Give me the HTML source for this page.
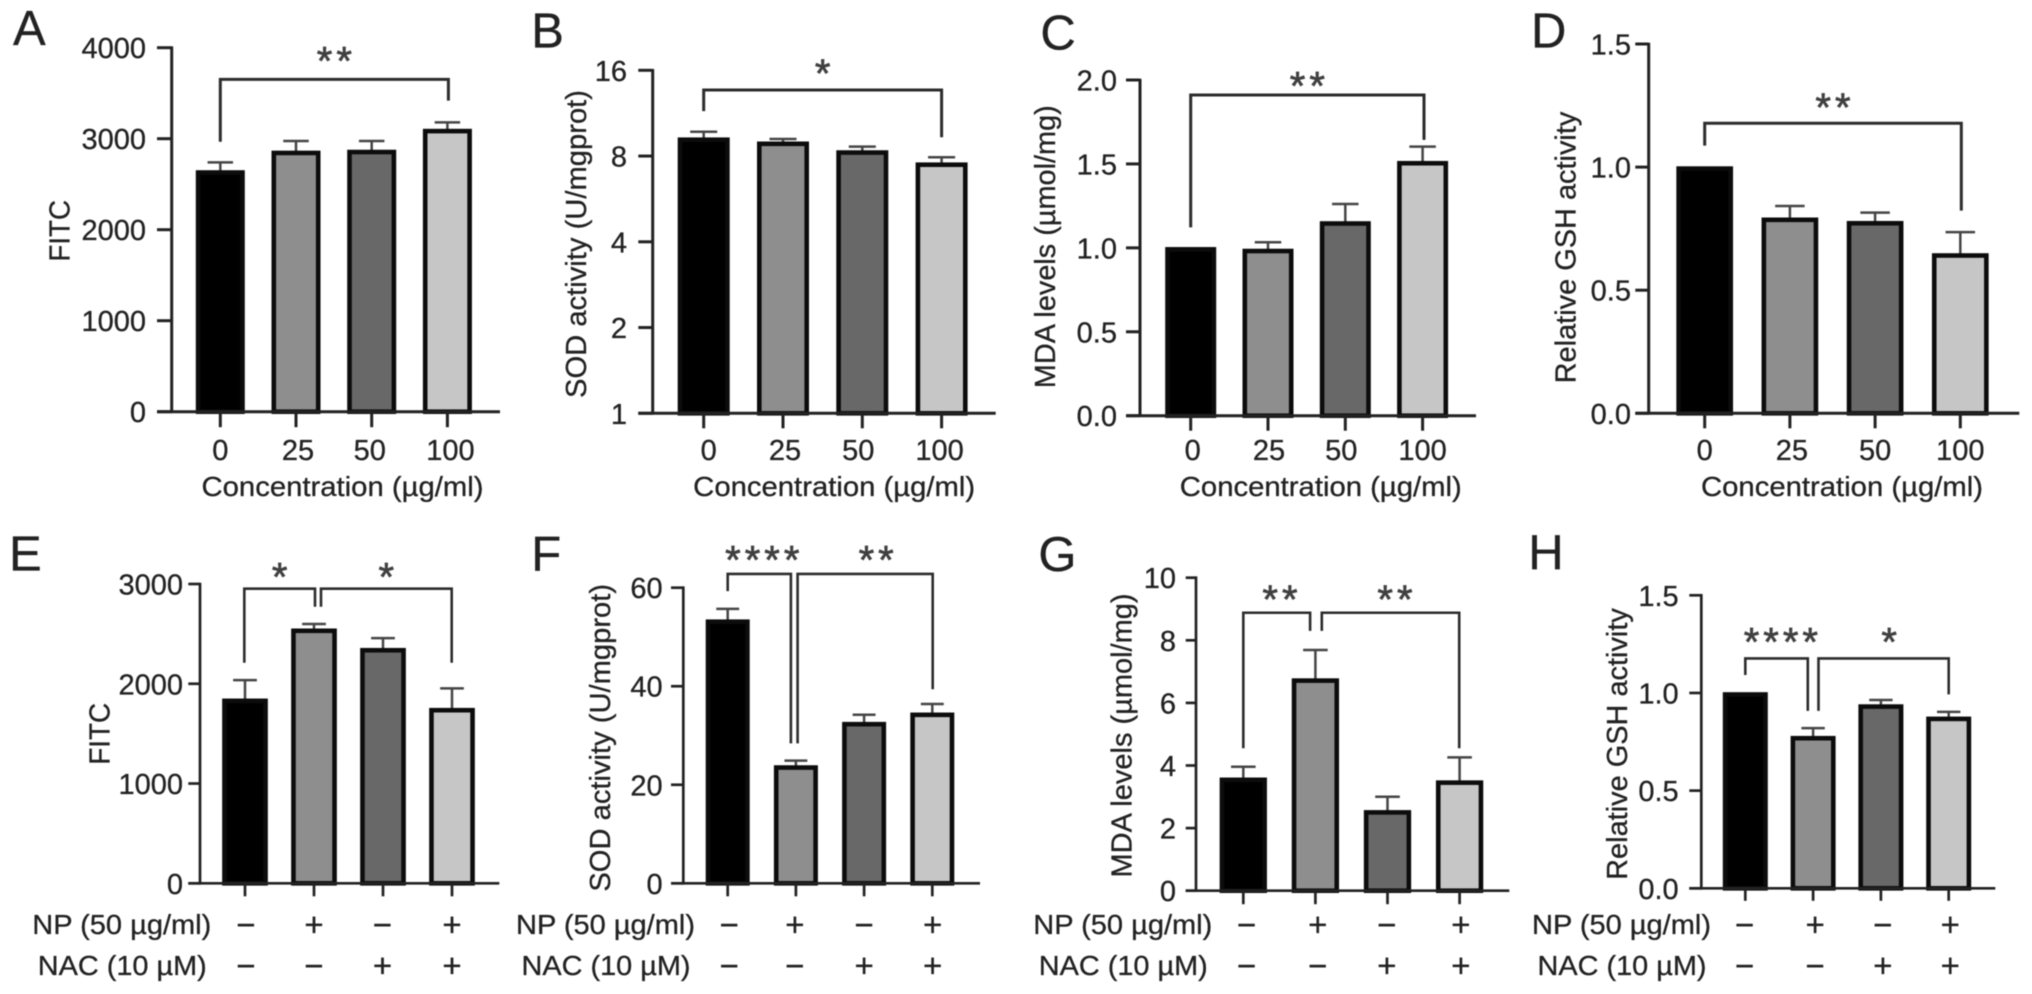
<!DOCTYPE html>
<html lang="en">
<head>
<meta charset="utf-8">
<title>Oxidative stress bar charts, panels A to H</title>
<style>
  html, body { margin: 0; padding: 0; background: #ffffff; }
  #figure { display: block; width: 2032px; height: 994px; filter: blur(0.55px); }
  text { font-family: "Liberation Sans", "DejaVu Sans", sans-serif; fill: #222222; stroke: #222222; stroke-width: 0.3px; }
</style>
</head>
<body>
<svg id="figure" xmlns="http://www.w3.org/2000/svg" width="2032" height="994" viewBox="0 0 2032 994"></svg>
<script>
// ---------- chart data ----------
const concentrationCategories = ['0', '25', '50', '100'];
const npSigns = ['\u2212', '+', '\u2212', '+'];
const nacSigns = ['\u2212', '\u2212', '+', '+'];

const aValues = [2645, 2860, 2870, 3100];
const aErrorTops = [2740, 2975, 2975, 3180];
const aTicks = [0, 1000, 2000, 3000, 4000];
const aTickLabels = ['0', '1000', '2000', '3000', '4000'];

const bValues = [9.24, 8.94, 8.33, 7.55];
const bErrorTops = [9.74, 9.18, 8.63, 7.92];
const bTicks = [1, 2, 4, 8, 16];
const bTickLabels = ['1', '2', '4', '8', '16'];

const cValues = [1.0, 0.99, 1.154, 1.513];
const cErrorTops = [1.0, 1.033, 1.261, 1.603];
const cTicks = [0, 0.5, 1, 1.5, 2];
const cTickLabels = ['0.0', '0.5', '1.0', '1.5', '2.0'];

const dValues = [1.0, 0.792, 0.778, 0.647];
const dErrorTops = [1.0, 0.842, 0.815, 0.736];
const dTicks = [0, 0.5, 1, 1.5];
const dTickLabels = ['0.0', '0.5', '1.0', '1.5'];

const eValues = [1844, 2546, 2351, 1750];
const eErrorTops = [2037, 2599, 2458, 1954];
const eTicks = [0, 1000, 2000, 3000];
const eTickLabels = ['0', '1000', '2000', '3000'];

const fValues = [53.4, 23.8, 32.6, 34.5];
const fErrorTops = [55.7, 24.9, 34.2, 36.4];
const fTicks = [0, 20, 40, 60];
const fTickLabels = ['0', '20', '40', '60'];

const gValues = [3.59, 6.76, 2.55, 3.5];
const gErrorTops = [3.96, 7.69, 3.0, 4.26];
const gTicks = [0, 2, 4, 6, 8, 10];
const gTickLabels = ['0', '2', '4', '6', '8', '10'];

const hValues = [1.0, 0.776, 0.938, 0.875];
const hErrorTops = [1.0, 0.82, 0.964, 0.903];
const hTicks = [0, 0.5, 1, 1.5];
const hTickLabels = ['0.0', '0.5', '1.0', '1.5'];

const barFills = ['#000000', '#8e8e8e', '#686868', '#c6c6c6'];

// ---------- drawing helpers ----------
const svg = document.getElementById('figure');
const NS = 'http://www.w3.org/2000/svg';

function shape(tag, attrs) {
  const el = document.createElementNS(NS, tag);
  for (const k in attrs) el.setAttribute(k, attrs[k]);
  svg.appendChild(el);
  return el;
}
function line(x1, y1, x2, y2, stroke, width) {
  return shape('line', { x1: x1, y1: y1, x2: x2, y2: y2, stroke: stroke, 'stroke-width': width });
}
function label(str, x, y, size, anchor) {
  const el = shape('text', { x: x, y: y, 'font-size': size, 'text-anchor': anchor || 'middle' });
  el.textContent = str;
  return el;
}

function makeYScale(p) {
  if (p.log) {
    const lo = Math.log2(p.domain[0]);
    const hi = Math.log2(p.domain[1]);
    return v => p.base - (Math.log2(v) - lo) / (hi - lo) * (p.base - p.top);
  }
  return v => p.base - (v - p.domain[0]) / (p.domain[1] - p.domain[0]) * (p.base - p.top);
}

function drawBracket(p, b, index) {
  const y = p.y;
  const x0 = p.x(b.from) + (b.fromDx || 0);
  const x1 = p.x(b.to) + (b.toDx || 0);
  const path = shape('path', {
    d: 'M' + x0 + ' ' + y(b.fromEnd) + 'V' + y(b.top) + 'H' + x1 + 'V' + y(b.toEnd),
    fill: 'none', stroke: '#2c2c2c', 'stroke-width': p.bracketWidth
  });
  
  
  const spacing = 4;
  const star = label(b.stars, (x0 + x1) / 2 + (b.starDx || 0) + spacing / 2, y(b.top) - b.starGap + 19.5, 40);
  star.setAttribute('letter-spacing', spacing);
  star.style.fill = '#404040';
  star.style.stroke = '#404040';
  star.style.strokeWidth = '0.7px';
  
  
}

function drawPanel(p) {
  p.y = makeYScale(p);
  p.x = i => p.x0 + i * p.step;
  const y = p.y;

  const letter = label(p.id.toUpperCase(), p.letterX, p.letterY, 49, 'start');
  
  

  // bars and error bars
  p.values.forEach((v, i) => {
    const cx = p.x(i);
    const capHalf = p.barWidth * 0.26;
    if (p.errorTops[i] > v) {
      const stem = line(cx, y(v) + 2, cx, y(p.errorTops[i]), '#454545', 2.5);
      
      
      const cap = line(cx - capHalf, y(p.errorTops[i]), cx + capHalf, y(p.errorTops[i]), '#454545', 2.5);
      
      
    }
    const sw = 4.6;
    const bar = shape('rect', {
      x: cx - p.barWidth / 2 + sw / 2,
      y: y(v) + sw / 2 - 0.8,
      width: p.barWidth - sw,
      height: Math.max(0, y(p.domain[0]) - y(v) - sw / 2 + 0.8),
      fill: barFills[i], stroke: '#0c0c0c', 'stroke-width': sw
    });
    
    
  });

  // y axis
  const yAxis = line(p.axisX, p.top - 1.3, p.axisX, p.base + 1.3, '#222222', p.axisWidth);
  
  
  p.ticks.forEach((t, i) => {
    const tick = line(p.tickLeft, y(t), p.axisX, y(t), '#222222', p.axisWidth);
    
    
    const txt = label(p.tickLabels[i], p.labelRight, y(t) + 10.5, 29, 'end');
    
    
  });

  // x axis
  const xAxis = line(p.tickLeft, p.base, p.axisRight, p.base, '#222222', p.axisWidth);
  
  
  p.values.forEach((v, i) => {
    const tick = line(p.x(i), p.base, p.x(i), p.base + p.tickLen, '#222222', p.axisWidth);
    
    
  });

  // y title
  const title = label(p.yTitle, 0, 0, 29);
  title.setAttribute('transform', 'translate(' + p.titleX + ' ' + p.titleY + ') rotate(-90)');
  title.setAttribute('textLength', p.titleLen);
  title.setAttribute('lengthAdjust', 'spacingAndGlyphs');
  
  

  // x labelling
  if (p.categories) {
    p.categories.forEach((c, i) => {
      const txt = label(c, p.x(i) + p.labelShift[i], 460, 29);
      
      
    });
    const xt = label('Concentration (\u00b5g/ml)', p.xTitleX, 496, 28);
    xt.setAttribute('textLength', 282);
    xt.setAttribute('lengthAdjust', 'spacingAndGlyphs');
    
    
  } else {
    const np = label('NP (50 \u00b5g/ml)', p.npLeft, 934, 28, 'start');
    np.setAttribute('textLength', 179);
    np.setAttribute('lengthAdjust', 'spacingAndGlyphs');
    
    
    const nac = label('NAC (10 \u00b5M)', p.npLeft + 5.5, 975, 28, 'start');
    nac.setAttribute('textLength', 169);
    nac.setAttribute('lengthAdjust', 'spacingAndGlyphs');
    
    
    npSigns.forEach((s, i) => {
      const txt = label(s, p.x(i) + p.labelShift[i], 936, 33);
      
      
    });
    nacSigns.forEach((s, i) => {
      const txt = label(s, p.x(i) + p.labelShift[i], 977, 33);
      
      
    });
  }

  p.brackets.forEach((b, i) => drawBracket(p, b, i));
}

// ---------- panels ----------
drawPanel({ id: 'a', values: aValues, errorTops: aErrorTops, ticks: aTicks, tickLabels: aTickLabels,
  categories: concentrationCategories, domain: [0, 4000], top: 47.7, base: 411.7,
  axisX: 171.7, tickLeft: 157, axisRight: 500, labelRight: 146, x0: 220.3, step: 75.7, barWidth: 49,
  tickLen: 15.5, axisWidth: 3, bracketWidth: 3, letterX: 13, letterY: 45,
  yTitle: 'FITC', titleX: 69.3, titleY: 230.8, titleLen: 61.7, xTitleX: 342.5, labelShift: [0, 2, -2, 3],
  brackets: [{ from: 0, to: 3, toDx: 1, top: 3652, fromEnd: 2967, toEnd: 3418, stars: '**', starGap: 24.3 }] });

drawPanel({ id: 'b', values: bValues, errorTops: bErrorTops, ticks: bTicks, tickLabels: bTickLabels,
  categories: concentrationCategories, log: true, domain: [1, 16], top: 70.3, base: 413.3,
  axisX: 652.7, tickLeft: 638.3, axisRight: 995.7, labelRight: 627, x0: 703.7, step: 79.3, barWidth: 52,
  tickLen: 15, axisWidth: 3, bracketWidth: 3, letterX: 531.3, letterY: 47.7,
  yTitle: 'SOD activity (U/mgprot)', titleX: 586, titleY: 244, titleLen: 308, xTitleX: 834.2, labelShift: [5, 2, -4, -2],
  brackets: [{ from: 0, to: 3, top: 13.65, fromEnd: 11.5, toEnd: 9.31, stars: '*', starGap: 22.3 }] });

drawPanel({ id: 'c', values: cValues, errorTops: cErrorTops, ticks: cTicks, tickLabels: cTickLabels,
  categories: concentrationCategories, domain: [0, 2], top: 80, base: 415.7,
  axisX: 1140, tickLeft: 1126, axisRight: 1476, labelRight: 1117, x0: 1190.7, step: 77.3, barWidth: 51,
  tickLen: 15, axisWidth: 3, bracketWidth: 3, letterX: 1040.4, letterY: 49.5,
  yTitle: 'MDA levels (\u00b5mol/mg)', titleX: 1055, titleY: 246.7, titleLen: 283, xTitleX: 1320.8, labelShift: [2, 1, -4, 0],
  brackets: [{ from: 0, to: 3, toDx: 1.4, top: 1.911, fromEnd: 1.122, toEnd: 1.643, stars: '**', starGap: 15 }] });

drawPanel({ id: 'd', values: dValues, errorTops: dErrorTops, ticks: dTicks, tickLabels: dTickLabels,
  categories: concentrationCategories, domain: [0, 1.5], top: 44, base: 413.3,
  axisX: 1648.7, tickLeft: 1635.3, axisRight: 2019.3, labelRight: 1631, x0: 1704.7, step: 85.2, barWidth: 56.7,
  tickLen: 15, axisWidth: 3, bracketWidth: 3, letterX: 1531, letterY: 47.7,
  yTitle: 'Relative GSH activity', titleX: 1575.3, titleY: 247.5, titleLen: 271.7, xTitleX: 1842, labelShift: [0, 2, 0, 0],
  brackets: [{ from: 0, to: 3, toDx: 1, top: 1.178, fromEnd: 1.087, toEnd: 0.823, stars: '**', starGap: 21.6 }] });

drawPanel({ id: 'e', values: eValues, errorTops: eErrorTops, ticks: eTicks, tickLabels: eTickLabels,
  domain: [0, 3000], top: 584, base: 883.3,
  axisX: 200, tickLeft: 188.3, axisRight: 499.3, labelRight: 183, x0: 245, step: 69, barWidth: 45.7,
  tickLen: 13, axisWidth: 2.7, bracketWidth: 2.6, letterX: 9, letterY: 570.7,
  yTitle: 'FITC', titleX: 109.3, titleY: 733.8, titleLen: 62, npLeft: 32.3, labelShift: [1, 0, -0.5, 0],
  brackets: [
    { from: 0, to: 1, fromDx: -0.7, toDx: 1, top: 2953, fromEnd: 2211, toEnd: 2772, stars: '*', starGap: 17.7 },
    { from: 1, to: 3, fromDx: 7, toDx: -0.3, top: 2953, fromEnd: 2772, toEnd: 2211, stars: '*', starGap: 17.7 }
  ] });

drawPanel({ id: 'f', values: fValues, errorTops: fErrorTops, ticks: fTicks, tickLabels: fTickLabels,
  domain: [0, 60], top: 587.7, base: 883.3,
  axisX: 683.3, tickLeft: 671, axisRight: 980, labelRight: 662.7, x0: 727.7, step: 68.2, barWidth: 44,
  tickLen: 13, axisWidth: 2.7, bracketWidth: 2.6, letterX: 531.3, letterY: 570.7,
  yTitle: 'SOD activity (U/mgprot)', titleX: 610, titleY: 737.8, titleLen: 307.7, npLeft: 516, labelShift: [1.6, -1, 0, 0.4],
  brackets: [
    { from: 0, to: 1, toDx: -5, top: 62.8, fromEnd: 59.3, toEnd: 28.4, stars: '****', starGap: 20, starDx: 3 },
    { from: 1, to: 3, fromDx: 1.7, toDx: 0.4, top: 62.8, fromEnd: 28.4, toEnd: 39.4, stars: '**', starGap: 20, starDx: 11 }
  ] });

drawPanel({ id: 'g', values: gValues, errorTops: gErrorTops, ticks: gTicks, tickLabels: gTickLabels,
  domain: [0, 10], top: 577.7, base: 890.7,
  axisX: 1196, tickLeft: 1185.7, axisRight: 1509.3, labelRight: 1176, x0: 1243.3, step: 72.1, barWidth: 47.3,
  tickLen: 13.5, axisWidth: 2.7, bracketWidth: 2.6, letterX: 1038.4, letterY: 571,
  yTitle: 'MDA levels (\u00b5mol/mg)', titleX: 1131.7, titleY: 735.5, titleLen: 284, npLeft: 1033.3, labelShift: [3.4, 2.4, -0.6, 1.3],
  brackets: [
    { from: 0, to: 1, toDx: -5.3, top: 8.88, fromEnd: 4.55, toEnd: 8.3, stars: '**', starGap: 19.4, starDx: 3.3 },
    { from: 1, to: 3, fromDx: 6.4, toDx: -0.4, top: 8.88, fromEnd: 8.3, toEnd: 4.55, stars: '**', starGap: 19.4, starDx: 4.5 }
  ] });

drawPanel({ id: 'h', values: hValues, errorTops: hErrorTops, ticks: hTicks, tickLabels: hTickLabels,
  domain: [0, 1.5], top: 595.3, base: 888.3,
  axisX: 1701.3, tickLeft: 1689.3, axisRight: 1995.3, labelRight: 1678.7, x0: 1745.3, step: 67.8, barWidth: 45,
  tickLen: 12.5, axisWidth: 2.7, bracketWidth: 2.6, letterX: 1528.3, letterY: 569,
  yTitle: 'Relative GSH activity', titleX: 1627, titleY: 744, titleLen: 271.7, npLeft: 1532, labelShift: [-0.6, 2, 2, 1.6],
  brackets: [
    { from: 0, to: 1, toDx: -5.3, top: 1.177, fromEnd: 1.092, toEnd: 0.908, stars: '****', starGap: 22.6, starDx: 4.3 },
    { from: 1, to: 3, fromDx: 5.4, toDx: 0, top: 1.177, fromEnd: 0.908, toEnd: 0.993, stars: '*', starGap: 22.6, starDx: 5.6 }
  ] });
</script>
</body>
</html>
